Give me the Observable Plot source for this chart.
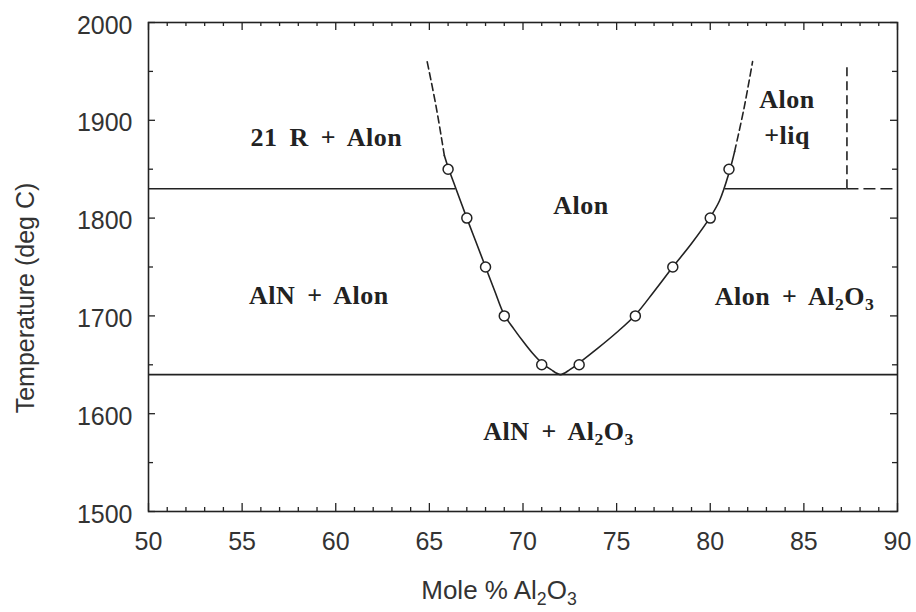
<!DOCTYPE html>
<html><head><meta charset="utf-8">
<script src="https://cdn.jsdelivr.net/npm/d3@7"></script>
<script src="https://cdn.jsdelivr.net/npm/@observablehq/plot@0.6"></script>
<style>body{margin:0;background:#fff}</style>
</head><body><div id="chart"></div>
<script>
// ---- tick values ----
const xTicks = [50, 55, 60, 65, 70, 75, 80, 85, 90];
const xMinorTicks = [51,52,53,54,56,57,58,59,61,62,63,64,66,67,68,69,71,72,73,74,76,77,78,79,81,82,83,84,86,87,88,89];
const yTicks = [1500, 1600, 1700, 1800, 1900, 2000];
const yMinorTicks = [1550, 1650, 1750, 1850, 1950];

// ---- measured points (open circles) ----
const measuredX = [66, 67, 68, 69, 71, 73, 76, 78, 80, 81];
const measuredT = [1850, 1800, 1750, 1700, 1650, 1650, 1700, 1750, 1800, 1850];

// ---- Alon solvus curve (solid part) ----
const solvusX = [65.8, 66.0, 66.4, 67.0, 67.5, 68.0, 68.5, 69.0, 69.5, 70.0, 70.5, 71.0, 71.5, 72.0, 72.5, 73.0, 74.0, 75.0, 76.0, 77.0, 78.0, 79.0, 80.0, 80.5, 81.0, 81.3];
const solvusT = [1864, 1852, 1831, 1800, 1775, 1750, 1725, 1701, 1687, 1674, 1662, 1652, 1645, 1640, 1645, 1652, 1667, 1683, 1701, 1725, 1750, 1774, 1801, 1818, 1846, 1868];

// ---- dashed extensions ----
const leftDashX = [65.8, 65.35, 64.85];
const leftDashT = [1864, 1915, 1963];
const rightDashX = [81.3, 81.8, 82.26];
const rightDashT = [1868, 1912, 1960];

// ---- isotherms ----
const isoT = [1830, 1830, 1640];
const isoX1 = [50, 80.8, 50];
const isoX2 = [66.4, 87.3, 90];
const isoDashT = [1830];
const isoDashX1 = [87.3];
const isoDashX2 = [90];
const vDashX = [87.3];
const vDashT1 = [1830];
const vDashT2 = [1958];

// ---- region labels ----
const regionLabels = ["21 R + Alon", "Alon", "AlN + Alon", "Alon + Al₂O₃", "AlN + Al₂O₃", "Alon", "+liq"];
const regionX = [59.5, 73.1, 59.1, 84.5, 71.9, 84.1, 84.1];
const regionT = [1882, 1813, 1721, 1720, 1582, 1921, 1884];

const ink = "#222";
const idx = a => a.map((_, i) => i);
const W = 916, H = 612, mL = 148, mR = 19, mT = 22, mB = 101;
const fw = W - mL - mR, fh = H - mT - mB;
const tickStyle = {stroke: ink, strokeWidth: 1.3};

const chart = Plot.plot({
  width: W, height: H,
  marginLeft: mL, marginRight: mR, marginTop: mT, marginBottom: mB,
  x: {domain: [50, 90]},
  y: {domain: [1500, 2000]},
  style: {fontFamily: "'Liberation Sans', Arial, sans-serif", background: "#fff", color: "#333"},
  marks: [
    Plot.ruleY(idx(isoT), {y: i => isoT[i], x1: i => isoX1[i], x2: i => isoX2[i], stroke: ink, strokeWidth: 1.7}),
    Plot.ruleY(idx(isoDashT), {y: i => isoDashT[i], x1: i => isoDashX1[i], x2: i => isoDashX2[i], stroke: ink, strokeWidth: 1.6, strokeDasharray: "12,5"}),
    Plot.ruleX(idx(vDashX), {x: i => vDashX[i], y1: i => vDashT1[i], y2: i => vDashT2[i], stroke: ink, strokeWidth: 1.6, strokeDasharray: "9,5"}),
    Plot.line(idx(solvusX), {x: i => solvusX[i], y: i => solvusT[i], curve: "catmull-rom", stroke: ink, strokeWidth: 1.6}),
    Plot.line(idx(leftDashX), {x: i => leftDashX[i], y: i => leftDashT[i], curve: "catmull-rom", stroke: ink, strokeWidth: 1.6, strokeDasharray: "7,4"}),
    Plot.line(idx(rightDashX), {x: i => rightDashX[i], y: i => rightDashT[i], curve: "catmull-rom", stroke: ink, strokeWidth: 1.6, strokeDasharray: "7,4"}),
    Plot.dot(idx(measuredX), {x: i => measuredX[i], y: i => measuredT[i], r: 5, stroke: ink, fill: "white", strokeWidth: 1.5}),
    Plot.text(idx(regionLabels), {x: i => regionX[i], y: i => regionT[i], text: i => regionLabels[i], fontFamily: "'Liberation Serif', 'Times New Roman', serif", fontWeight: "bold", fontSize: 26, fill: ink}),
    Plot.frame({stroke: ink, strokeWidth: 1.6}),
    // inward ticks on all four sides
    Plot.ruleX(xTicks, {x: d => d, insetTop: fh - 8, ...tickStyle}),
    Plot.ruleX(xMinorTicks, {x: d => d, insetTop: fh - 4, ...tickStyle}),
    Plot.ruleX(xTicks, {x: d => d, insetBottom: fh - 8, ...tickStyle}),
    Plot.ruleX(xMinorTicks, {x: d => d, insetBottom: fh - 4, ...tickStyle}),
    Plot.ruleY(yTicks, {y: d => d, insetRight: fw - 7, ...tickStyle}),
    Plot.ruleY(yMinorTicks, {y: d => d, insetRight: fw - 5, ...tickStyle}),
    Plot.ruleY(yTicks, {y: d => d, insetLeft: fw - 7, ...tickStyle}),
    Plot.ruleY(yMinorTicks, {y: d => d, insetLeft: fw - 5, ...tickStyle}),
    Plot.axisX({ticks: xTicks, tickSize: 0, tickPadding: 21, fontSize: 25, tickFormat: "d", label: null}),
    Plot.axisY({ticks: yTicks, tickSize: 0, tickPadding: 16, fontSize: 25, dy: 3, tickFormat: "d", label: null}),
    Plot.text(["Temperature (deg C)"], {frameAnchor: "left", textAnchor: "middle", lineAnchor: "middle", dx: -123, dy: 31, rotate: -90, fontSize: 25, fill: "#333"}),
    Plot.text(["Mole % Al₂O₃"], {frameAnchor: "bottom", textAnchor: "middle", lineAnchor: "middle", dx: -24, dy: 79, fontSize: 26, fill: "#333"})
  ]
});
document.getElementById("chart").appendChild(chart);

// letter/word spacing for serif region labels
for (const g of chart.querySelectorAll("g[font-family*='Serif']")) {
  g.setAttribute("letter-spacing", "0.5");
  g.setAttribute("word-spacing", "5");
}
// real subscripts for chemical formulas
const NS = "http://www.w3.org/2000/svg";
for (const t of chart.querySelectorAll("text")) {
  const s = t.textContent;
  if (!/[₂₃]/.test(s)) continue;
  const fs = parseFloat(getComputedStyle(t).fontSize) || 20;
  const shift = fs * 0.22;
  t.textContent = "";
  let down = false;
  for (const part of s.split(/([₂₃])/)) {
    if (!part) continue;
    const ts = document.createElementNS(NS, "tspan");
    if (part === "₂" || part === "₃") {
      ts.textContent = part === "₂" ? "2" : "3";
      ts.setAttribute("font-size", (fs * 0.68).toFixed(1));
      if (!down) { ts.setAttribute("dy", shift.toFixed(1)); down = true; }
    } else {
      ts.textContent = part;
      if (down) { ts.setAttribute("dy", (-shift).toFixed(1)); down = false; }
    }
    t.appendChild(ts);
  }
}
</script>
</body></html>
